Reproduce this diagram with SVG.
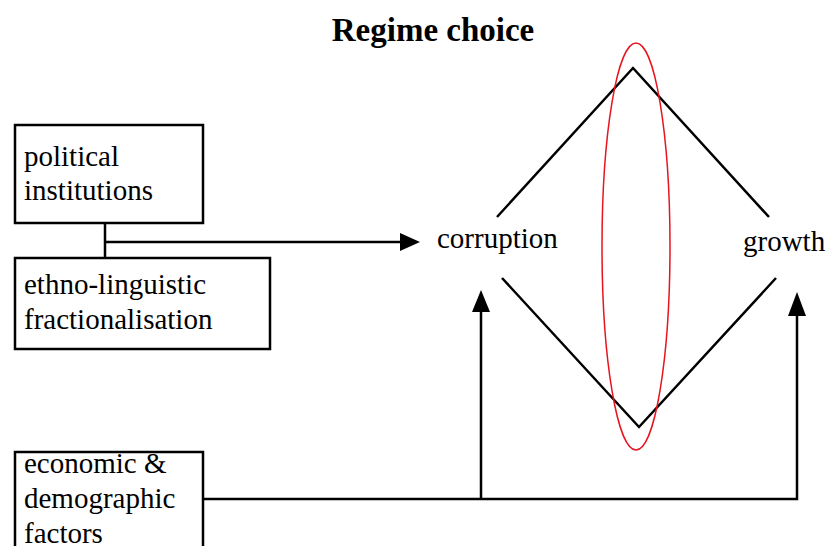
<svg xmlns="http://www.w3.org/2000/svg" width="827" height="546" viewBox="0 0 827 546">
<style>
.box{fill:#fff;stroke:#000;stroke-width:2.5}
.t{font-family:"Liberation Serif","Times New Roman",serif;font-size:29px;fill:#000}
.ln{stroke:#000;stroke-width:2.5;fill:none}
</style>
<rect width="827" height="546" fill="#fff"/>
<text x="433" y="41" text-anchor="middle" class="t" style="font-weight:bold;font-size:33px">Regime choice</text>

<g id="connectors">
<path class="ln" d="M105,223 V258"/>
<path class="ln" d="M105,242 H400"/>
<path d="M400,233 L420,242 L400,251 Z" fill="#000"/>
<path class="ln" d="M203,499 H797 V314"/>
<path class="ln" d="M481,499 V310"/>
<path d="M472,312 L481,290 L490,312 Z" fill="#000"/>
<path d="M788,316 L797,292 L806,316 Z" fill="#000"/>
<path class="ln" d="M497,217 L633,68 L769,217"/>
<path class="ln" d="M502,278 L639,427 L776,278"/>
<ellipse cx="636" cy="246.5" rx="34" ry="203.5" fill="none" stroke="#e8141e" stroke-width="1.5"/>
</g>

<g id="political-institutions">
<rect class="box" x="15" y="125" width="188" height="98"/>
<text class="t" x="24" y="166">political</text>
<text class="t" x="24" y="200">institutions</text>
</g>
<g id="ethno-linguistic">
<rect class="box" x="15" y="258" width="255" height="91"/>
<text class="t" x="24" y="294">ethno-linguistic</text>
<text class="t" x="24" y="329">fractionalisation</text>
</g>
<g id="economic">
<rect class="box" x="15" y="452" width="188" height="110"/>
<text class="t" x="24" y="473">economic &amp;</text>
<text class="t" x="24" y="508">demographic</text>
<text class="t" x="24" y="543">factors</text>
</g>
<g id="corruption">
<text class="t" x="437" y="248">corruption</text>
</g>
<g id="growth">
<text class="t" x="743" y="251">growth</text>
</g>
</svg>
